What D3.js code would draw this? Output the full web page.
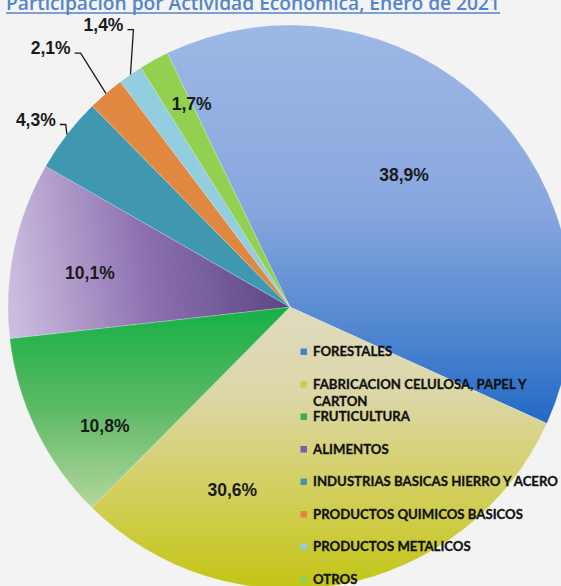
<!DOCTYPE html>
<html>
<head>
<meta charset="utf-8">
<script src="https://cdn.jsdelivr.net/npm/d3@7"></script>
<style>
  html, body { margin: 0; padding: 0; background: #f3f3f3; }
  svg { display: block; }
</style>
</head>
<body>
<div id="chart"></div>
<script>
// données: participation par activité économique, janvier 2021
var categories = ["FORESTALES", "FABRICACION CELULOSA, PAPEL Y CARTON", "FRUTICULTURA", "ALIMENTOS",
                  "INDUSTRIAS BASICAS HIERRO Y ACERO", "PRODUCTOS QUIMICOS BASICOS", "PRODUCTOS METALICOS", "OTROS"];
var shares = [38.9, 30.6, 10.8, 10.1, 4.3, 2.1, 1.4, 1.7];
var title = "Participación por Actividad Económica, Enero de 2021";

var width = 561, height = 586;
var cx = 290, cy = 307, R = 282;
var startDeg = -25.8;

// couleurs (aplats pour la légende, dégradés pour les parts)
var flat = ["#4a80d0", "#cfcc45", "#38b04f", "#7a5fa8", "#4098b0", "#e08840", "#93cde0", "#92d050"];

// position des étiquettes: rayon relatif + décalage angulaire (degrés)
var labelR = [0.62, 0.68, 0.78, 0.72, 1.12, 1.25, 1.2, 0.8];
var labelDa = [-3.6, 28, -6.7, -2, -1.3, -2, 1, 3];

var fmt = function(v) { return d3.format(".1f")(v).replace(".", ",") + "%"; };

var svg = d3.select("#chart").append("svg")
    .attr("width", width)
    .attr("height", height);

svg.append("rect").attr("width", width).attr("height", height).attr("fill", "#f3f3f3");

var defs = svg.append("defs");

// les coordonnées des dégradés sont relatives au centre du camembert
function linGrad(id, x1, y1, x2, y2, stops) {
  var g = defs.append("linearGradient").attr("id", id)
      .attr("gradientUnits", "userSpaceOnUse")
      .attr("x1", x1).attr("y1", y1).attr("x2", x2).attr("y2", y2);
  stops.forEach(function(s) { g.append("stop").attr("offset", s[0]).attr("stop-color", s[1]); });
}
linGrad("g0", 0, -R, 0, 125, [[0, "#9eb8e5"], [0.45, "#88a7de"], [0.75, "#5187d0"], [1, "#1d67c4"]]);
linGrad("g1", 0, 0, 0, R, [[0, "#dfdbc0"], [0.3, "#dcd7a9"], [0.65, "#d3cf5e"], [1, "#c3c514"]]);
linGrad("g2", 0, 0, 0, 205, [[0, "#16b045"], [0.5, "#5eb967"], [1, "#b9d89f"]]);
linGrad("g3", 0, -5, -R + 10, 30, [[0, "#5b4682"], [0.5, "#8c70b0"], [1, "#cabcde"]]);

var fills = ["url(#g0)", "url(#g1)", "url(#g2)", "url(#g3)", flat[4], flat[5], flat[6], flat[7]];

var rad = Math.PI / 180;
var pie = d3.pie().sort(null)
    .startAngle(startDeg * rad)
    .endAngle(startDeg * rad + 2 * Math.PI);
var arcs = pie(shares);
var arc = d3.arc().innerRadius(0).outerRadius(R);

var g = svg.append("g").attr("transform", "translate(" + cx + "," + cy + ")");

g.selectAll("path.slice")
  .data(arcs)
  .enter().append("path")
    .attr("class", "slice")
    .attr("d", arc)
    .attr("fill", function(d, i) { return fills[i]; })
    .attr("stroke", "rgba(255,255,255,0.35)")
    .attr("stroke-width", 0.6);

// étiquettes des pourcentages
function polar(a, r) { return [Math.sin(a) * r, -Math.cos(a) * r]; }

arcs.forEach(function(d, i) {
  var mid = (d.startAngle + d.endAngle) / 2;
  var p = polar(mid + labelDa[i] * rad, R * labelR[i]);
  var t = g.append("text")
      .attr("x", p[0]).attr("y", p[1])
      .attr("text-anchor", "middle")
      .attr("dy", "0.35em")
      .attr("font-family", "'Liberation Sans', Arial, sans-serif")
      .attr("font-weight", "bold")
      .attr("font-size", 17.5)
      .attr("fill", "#1a1a1a")
      .text(fmt(shares[i]));
  if (labelR[i] > 1) {
    // ligne de rappel: petit trait horizontal puis vers le bord de la part
    var w = t.node().getComputedTextLength();
    var edge = polar(mid, R);
    var x0 = p[0] + w / 2 + 4, y0 = p[1] + 5;
    g.append("path")
      .attr("d", d3.line()([[x0, y0], [x0 + 6, y0], edge]))
      .attr("fill", "none")
      .attr("stroke", "#1a1a1a")
      .attr("stroke-width", 1.3);
  }
});

// titre (coupé en haut comme l'original)
var tt = svg.append("text")
    .attr("x", 6).attr("y", 10)
    .attr("font-family", "'Open Sans', sans-serif")
    .attr("font-weight", 600)
    .attr("font-size", 20)
    .attr("fill", "#5585c9")
    .text(title);
var tw = tt.node().getComputedTextLength();
tt.attr("font-size", 20 * 494 / tw);
svg.append("line")
    .attr("x1", 6).attr("x2", 500)
    .attr("y1", 13).attr("y2", 13)
    .attr("stroke", "#5585c9").attr("stroke-width", 1.4);

// légende
var lx = 300, ly = 351.5, step = 32.5, maxW = 250;
var legend = svg.append("g").attr("class", "legend");

var probe = legend.append("text")
    .attr("font-family", "Lato, sans-serif").attr("font-weight", "bold").attr("font-size", 12)
    .text("INDUSTRIAS BASICAS HIERRO Y ACERO");
var lfs = 12 * 245 / probe.node().getComputedTextLength();
probe.remove();

categories.forEach(function(c, i) {
  var y = ly + i * step;
  legend.append("rect")
    .attr("x", lx + 0.5).attr("y", y - 3)
    .attr("width", 6.5).attr("height", 6.5)
    .attr("fill", flat[i]);
  var t = legend.append("text")
    .attr("x", lx + 13).attr("y", y)
    .attr("dy", "0.35em")
    .attr("font-family", "Lato, sans-serif")
    .attr("font-weight", "bold")
    .attr("font-size", lfs)
    .attr("fill", "#111")
    .attr("stroke", "#111")
    .attr("stroke-width", 0.3);
  // retour à la ligne simple
  var words = c.split(" "), line = [];
  var ts = t.append("tspan").attr("x", lx + 13);
  words.forEach(function(wd) {
    line.push(wd);
    ts.text(line.join(" "));
    if (ts.node().getComputedTextLength() > maxW && line.length > 1) {
      line.pop();
      ts.text(line.join(" "));
      line = [wd];
      ts = t.append("tspan").attr("x", lx + 13).attr("dy", "1.35em").text(wd);
    }
  });
});
</script>
</body>
</html>
